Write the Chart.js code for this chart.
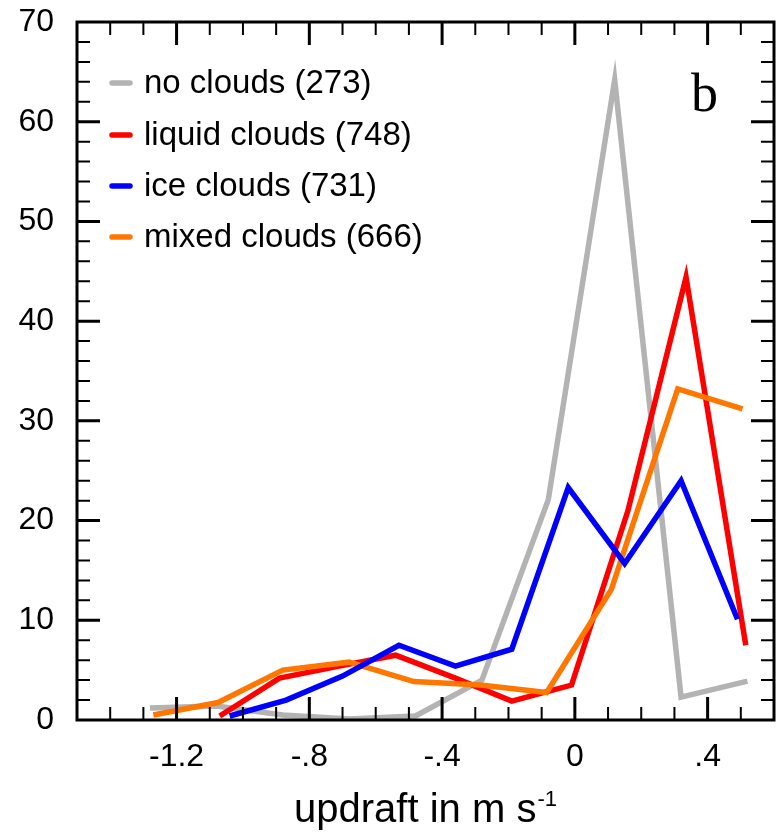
<!DOCTYPE html>
<html>
<head>
<meta charset="utf-8">
<script src="https://cdn.jsdelivr.net/npm/chart.js@4/dist/chart.umd.min.js"></script>
<style>
  html, body { margin: 0; padding: 0; background: #fff; }
  #wrap { width: 778px; height: 833px; position: relative; }
</style>
</head>
<body>
<div id="wrap"><canvas id="c" width="778" height="833"></canvas></div>
<script>
// Frequency (%) of updraft speed per cloud class, by bin centre (m/s)
const noCloudsX     = [-1.28, -1.08, -0.88, -0.68, -0.48, -0.28, -0.08, 0.12, 0.32, 0.52];
const noCloudsY     = [1.2, 1.4, 0.5, 0.1, 0.4, 4.0, 22.1, 64.2, 2.3, 3.9];
const liquidCloudsX = [-1.07, -0.89, -0.71, -0.54, -0.36, -0.19, -0.01, 0.16, 0.335, 0.515];
const liquidCloudsY = [0.4, 4.2, 5.4, 6.5, 4.2, 1.9, 3.5, 21.0, 44.4, 7.5];
const iceCloudsX    = [-1.04, -0.87, -0.70, -0.53, -0.36, -0.19, -0.02, 0.15, 0.32, 0.49];
const iceCloudsY    = [0.4, 2.0, 4.4, 7.5, 5.4, 7.1, 23.3, 15.7, 24.0, 10.1];
const mixedCloudsX  = [-1.27, -1.075, -0.88, -0.68, -0.485, -0.285, -0.085, 0.11, 0.31, 0.505];
const mixedCloudsY  = [0.5, 1.75, 5.0, 5.8, 3.85, 3.5, 2.75, 13.1, 33.2, 31.2];

const seriesLabels = ['no clouds (273)', 'liquid clouds (748)', 'ice clouds (731)', 'mixed clouds (666)'];
const seriesColors = ['#b3b3b3', '#ff0000', '#0000ff', '#ff7700'];

const xMajorTicks = [-1.2, -0.8, -0.4, 0, 0.4];
const xTickLabels = ['-1.2', '-.8', '-.4', '0', '.4'];
const yMajorStep = 10;
const xAxisTitle = 'updraft in m s';
const xAxisTitleSup = '-1';
const panelLetter = 'b';

const FONT = '"Liberation Sans", Arial, Helvetica, sans-serif';
Chart.defaults.font.family = FONT;
Chart.defaults.color = '#000';

function pts(xs, ys) { return xs.map((x, i) => ({ x: x, y: ys[i] })); }

const seriesData = [
  pts(noCloudsX, noCloudsY),
  pts(liquidCloudsX, liquidCloudsY),
  pts(iceCloudsX, iceCloudsY),
  pts(mixedCloudsX, mixedCloudsY)
];
// lower 'order' is painted on top
const drawOrder = [4, 3, 1, 2];

// Frame, inward ticks on all four sides, legend, panel letter and axis title
const framePlugin = {
  id: 'frame',
  afterDraw(chart) {
    const { ctx, chartArea: a, scales: { x, y } } = chart;
    ctx.save();
    ctx.strokeStyle = '#000';
    ctx.lineCap = 'butt';

    const major = 23, minor = 13;
    // x ticks (minor every 0.1, major at labelled values)
    for (let k = -14; k <= 5; k++) {
      const v = k / 10;
      const isMajor = xMajorTicks.some(t => Math.abs(t - v) < 1e-9);
      const px = x.getPixelForValue(v);
      const len = isMajor ? major : minor;
      ctx.lineWidth = isMajor ? 3 : 2;
      ctx.beginPath();
      ctx.moveTo(px, a.bottom); ctx.lineTo(px, a.bottom - len);
      ctx.moveTo(px, a.top); ctx.lineTo(px, a.top + len);
      ctx.stroke();
    }
    // y ticks (minor every 2)
    for (let v = 2; v < 70; v += 2) {
      const isMajor = v % yMajorStep === 0;
      const py = y.getPixelForValue(v);
      const len = isMajor ? major : minor;
      ctx.lineWidth = isMajor ? 3 : 2;
      ctx.beginPath();
      ctx.moveTo(a.left, py); ctx.lineTo(a.left + len, py);
      ctx.moveTo(a.right, py); ctx.lineTo(a.right - len, py);
      ctx.stroke();
    }
    // frame
    ctx.lineWidth = 3;
    ctx.strokeRect(a.left, a.top, a.right - a.left, a.bottom - a.top);

    // legend
    const rowY = [83, 135, 186, 237];
    ctx.font = '33px ' + FONT;
    ctx.textBaseline = 'middle';
    ctx.textAlign = 'left';
    ctx.lineCap = 'round';
    chart.data.datasets.forEach((ds, i) => {
      ctx.strokeStyle = ds.borderColor;
      ctx.lineWidth = 5.5;
      ctx.beginPath();
      ctx.moveTo(112, rowY[i]); ctx.lineTo(130, rowY[i]);
      ctx.stroke();
      ctx.fillStyle = '#000';
      ctx.fillText(ds.label, 144, rowY[i] + 1);
    });

    // panel letter
    ctx.font = '54px "Liberation Serif", "Times New Roman", serif';
    ctx.textBaseline = 'alphabetic';
    ctx.fillText(panelLetter, 691, 111);

    // axis title with superscript
    ctx.font = '40px ' + FONT;
    const w1 = ctx.measureText(xAxisTitle).width;
    ctx.font = '22px ' + FONT;
    const w2 = ctx.measureText(xAxisTitleSup).width;
    const cx = (a.left + a.right) / 2;
    const sx = cx - (w1 + w2 + 1) / 2;
    ctx.font = '40px ' + FONT;
    ctx.fillText(xAxisTitle, sx, 822);
    ctx.font = '22px ' + FONT;
    ctx.fillText(xAxisTitleSup, sx + w1 + 1, 806);
    ctx.restore();
  }
};

new Chart(document.getElementById('c'), {
  type: 'line',
  data: {
    datasets: seriesData.map((d, i) => ({
      label: seriesLabels[i],
      data: d,
      borderColor: seriesColors[i],
      backgroundColor: seriesColors[i],
      borderWidth: 5.5,
      pointRadius: 0,
      tension: 0,
      fill: false,
      borderJoinStyle: 'miter',
      borderCapStyle: 'butt',
      order: drawOrder[i]
    }))
  },
  options: {
    responsive: false,
    animation: false,
    devicePixelRatio: 1,
    layout: { padding: { top: 22, right: 4, left: 0, bottom: 0 } },
    plugins: { legend: { display: false }, tooltip: { enabled: false } },
    scales: {
      x: {
        type: 'linear',
        min: -1.5,
        max: 0.6,
        afterBuildTicks: s => { s.ticks = xMajorTicks.map(v => ({ value: v })); },
        afterFit: s => { s.height = 113; s.paddingLeft = 0; s.paddingRight = 0; },
        grid: { display: false, drawTicks: false },
        border: { display: false },
        ticks: {
          padding: 18,
          autoSkip: false,
          maxRotation: 0,
          font: { size: 32 },
          color: '#000',
          callback: (v, i) => xTickLabels[i]
        }
      },
      y: {
        type: 'linear',
        min: 0,
        max: 70,
        afterFit: s => { s.width = 77; s.paddingTop = 0; s.paddingBottom = 0; },
        grid: { display: false, drawTicks: false },
        border: { display: false },
        ticks: { stepSize: yMajorStep, padding: 23, font: { size: 32 }, color: '#000' }
      }
    }
  },
  plugins: [framePlugin]
});
</script>
</body>
</html>
